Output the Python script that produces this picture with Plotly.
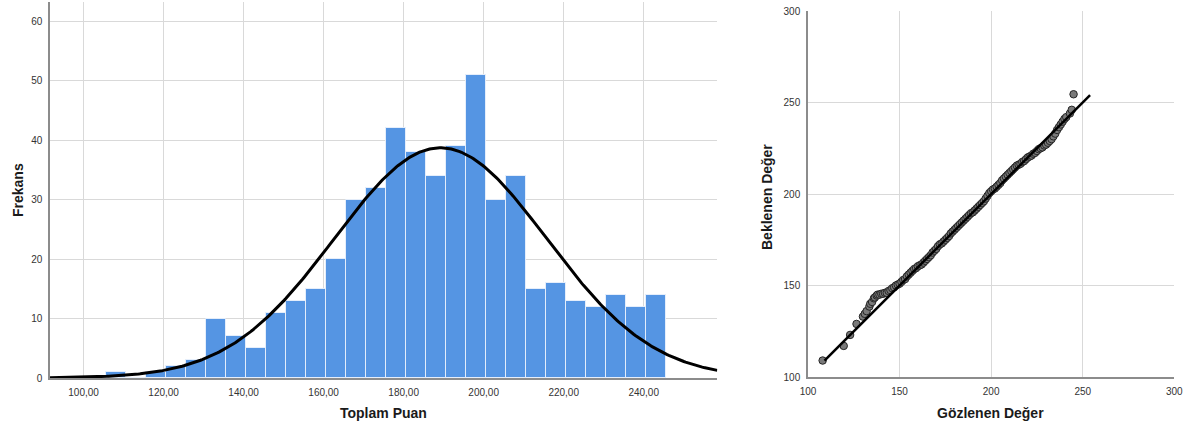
import numpy as np
import plotly.graph_objects as go

# Histogram of total scores (bin width 5)
bin_starts = [105.5, 110.5, 115.5, 120.5, 125.5, 130.5, 135.5, 140.5, 145.5, 150.5,
              155.5, 160.5, 165.5, 170.5, 175.5, 180.5, 185.5, 190.5, 195.5, 200.5,
              205.5, 210.5, 215.5, 220.5, 225.5, 230.5, 235.5, 240.5]
counts = [1, 0, 1, 2, 3, 10, 7, 5, 11, 13,
          15, 20, 30, 32, 42, 38, 34, 39, 51, 30,
          34, 15, 16, 13, 12, 14, 12, 14]
bin_width = 5
score_mean = 189.2
score_sd = 26.5

hist_ticks = [100, 120, 140, 160, 180, 200, 220, 240]
hist_ticktext = ["100,00", "120,00", "140,00", "160,00", "180,00", "200,00", "220,00", "240,00"]
freq_ticks = [0, 10, 20, 30, 40, 50, 60]

# Normal Q-Q plot: observed vs expected values
observed = [108, 119.5, 123, 126.5, 130, 131, 132, 133.5, 134, 135, 136, 136.5, 137.5, 138,
            139, 140, 141, 142, 143, 144, 145, 146, 147, 148, 149, 150, 151, 152, 153, 154,
            155, 156, 157, 158, 159, 160, 161, 162, 163, 164, 165, 166, 167, 168, 169, 170,
            171, 172, 173, 174, 175, 176, 177, 178, 179, 180, 181, 182, 183, 184, 185, 186,
            187, 188, 189, 190, 191, 192, 193, 194, 195, 196, 197, 198, 199, 200, 201, 202,
            203, 204, 205, 206, 207, 208, 209, 210, 211, 212, 213, 214, 215, 216, 217, 218,
            219, 220, 221, 222, 223, 224, 225, 226, 227, 228, 229, 230, 231, 232, 233, 234,
            235, 236, 237, 238, 239, 240, 241, 243, 244, 245]
expected = [109, 117, 123, 129, 133, 134.5, 136, 138.5, 140, 141, 143, 143.5, 144.5, 145,
            145, 145.5, 145.5, 146, 146, 147, 147.5, 148.5, 149, 150, 150.5, 151, 152, 153, 153.5, 155,
            156, 157, 158, 159, 159.5, 160.5, 161, 161.5, 162.5, 163.5, 164.5, 165.5, 166.5, 168, 169, 170,
            171.5, 172.5, 173, 174, 175, 176, 177, 178.5, 179.5, 180.5, 181.5, 182.5, 183.5, 184.5, 185.5, 186.5,
            187.5, 188.5, 189.5, 190, 191, 192, 193, 194, 195, 196, 197.5, 199, 200.5, 201.5, 202.5, 203,
            204, 205, 206, 207.5, 208.5, 209.5, 210.5, 211.5, 212.5, 213.5, 214.5, 215.5, 216, 216.5, 217.5, 218,
            219, 220, 220.5, 221, 222, 222.5, 223.5, 224.5, 225, 225.5, 226.5, 227, 228, 229, 230, 231.5,
            233, 235, 236.5, 238, 239.5, 241, 242, 244, 246, 254.5]
ref_line = [109, 254]
qq_ticks = [100, 150, 200, 250, 300]

FONT = "Liberation Sans, Arial, sans-serif"
GRID = "#d9d9d9"
AXIS = "#8c8c8c"

fig = go.Figure()

bin_centers = [s + bin_width / 2 for s in bin_starts]
fig.add_trace(go.Bar(
    x=bin_centers, y=counts, width=bin_width,
    marker=dict(color="#5595e3", line=dict(color="rgba(235,242,252,0.9)", width=1)),
    xaxis="x", yaxis="y", showlegend=False, hoverinfo="x+y",
))

# fitted normal curve scaled to frequencies
n_total = sum(counts)
xs = np.linspace(91.6, 258.4, 400)
ys = n_total * bin_width / (score_sd * np.sqrt(2 * np.pi)) * np.exp(-0.5 * ((xs - score_mean) / score_sd) ** 2)
fig.add_trace(go.Scatter(
    x=xs, y=ys, mode="lines", line=dict(color="black", width=3),
    xaxis="x", yaxis="y", showlegend=False, hoverinfo="skip",
))

fig.add_trace(go.Scatter(
    x=observed, y=expected, mode="markers",
    marker=dict(size=7.5, color="#7a7a7a", line=dict(color="#262626", width=1)),
    xaxis="x2", yaxis="y2", showlegend=False,
))
fig.add_trace(go.Scatter(
    x=ref_line, y=ref_line, mode="lines", line=dict(color="black", width=2.5),
    xaxis="x2", yaxis="y2", showlegend=False, hoverinfo="skip",
))

tick_font = dict(family=FONT, size=10, color="#333333")
title_font = dict(family=FONT, size=14, color="#1a1a1a")

common = dict(showgrid=True, gridcolor=GRID, gridwidth=1, zeroline=False,
              showline=True, linecolor=AXIS, linewidth=1.5, ticks="",
              ticklabelstandoff=4, automargin=False, tickfont=tick_font)

fig.update_layout(
    template="none",
    width=1190, height=428,
    margin=dict(l=0, r=0, t=0, b=0),
    paper_bgcolor="white", plot_bgcolor="white",
    bargap=0,
    xaxis=dict(domain=[50 / 1190, 717.3 / 1190], range=[91.6, 258.4],
               tickvals=hist_ticks, ticktext=hist_ticktext, anchor="y", **common),
    yaxis=dict(domain=[1 - 378 / 428, 1 - 2 / 428], range=[0, 63.2],
               tickvals=freq_ticks, anchor="x", **common),
    xaxis2=dict(domain=[808 / 1190, 1174.3 / 1190], range=[100, 300], anchor="y2",
                tickvals=qq_ticks, **common),
    yaxis2=dict(domain=[1 - 377 / 428, 1 - 11 / 428], range=[100, 300], anchor="x2",
                tickvals=qq_ticks, **common),
    annotations=[
        dict(text="<b>Toplam Puan</b>", x=383 / 1190, y=1 - 413 / 428, xref="paper", yref="paper",
             showarrow=False, font=title_font, xanchor="center", yanchor="middle"),
        dict(text="<b>Frekans</b>", x=18 / 1190, y=1 - 190 / 428, xref="paper", yref="paper",
             showarrow=False, font=title_font, textangle=-90, xanchor="center", yanchor="middle"),
        dict(text="<b>Gözlenen Değer</b>", x=990 / 1190, y=1 - 413 / 428, xref="paper", yref="paper",
             showarrow=False, font=title_font, xanchor="center", yanchor="middle"),
        dict(text="<b>Beklenen Değer</b>", x=767 / 1190, y=1 - 197 / 428, xref="paper", yref="paper",
             showarrow=False, font=title_font, textangle=-90, xanchor="center", yanchor="middle"),
    ],
)

fig.write_html("out.html")
